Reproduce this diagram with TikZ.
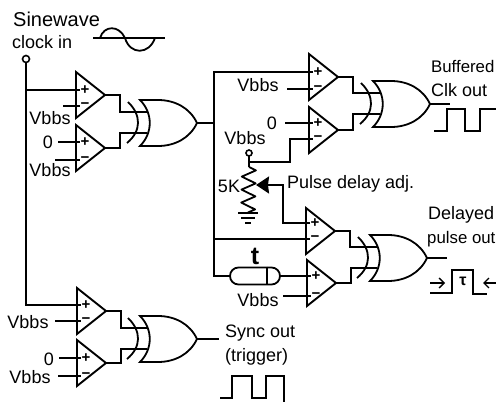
\documentclass[tikz,border=0pt]{standalone}
\usepackage{fontspec}
\setmainfont{Liberation Sans}
\usepackage{tikz}
\usetikzlibrary{calc,shapes.geometric,shapes.misc,arrows.meta}
\usetikzlibrary{decorations.pathmorphing}

\tikzset{
    wire/.style={line width=1.8pt, line join=miter},
    comparator/.style={draw, line width=1.9pt, isosceles triangle, isosceles triangle stretches,
        minimum width=46pt, minimum height=29pt, inner sep=0pt, outer sep=0pt, anchor=apex},
    sign/.style={inner sep=0pt, font=\fontsize{15}{15}\selectfont\bfseries},
    txt/.style={inner sep=0pt, anchor=west, font=\fontsize{18}{20}\selectfont},
    edgetxt/.style={txt, font=\fontsize{16.8}{20}\selectfont},
    mid/.style={inner sep=0pt, font=\fontsize{18}{20}\selectfont},
    terminal/.style={draw, circle, line width=1.6pt, minimum size=7pt, inner sep=0pt, outer sep=0pt},
}

\begin{document}
\begin{tikzpicture}[x=1pt, y=-1pt]
    \useasboundingbox (0,0) rectangle (496,404);

    \foreach \cname/\ax/\ay/\pdy/\ndy in {C1/105/95/-5/11, C2/105/148/-6/12, C3/338/77/-5/12, C4/338/130/-7/9,
        C5/335/231/-8/8, C6/336/283/-7/13, C7/106/311/-6/10, C8/106/363/-5/13}{
        \node[comparator] (\cname) at (\ax,\ay) {};
        \node[sign] (\cname-plus) at ($(\cname.lower side)+(9,\pdy)$) {+};
        \node[sign] (\cname-minus) at ($(\cname.lower side)+(9,\ndy)$) {−};
        \coordinate (\cname-p) at ($(\cname.lower side)+(4,\pdy)$);
        \coordinate (\cname-n) at ($(\cname.lower side)+(4,\ndy)$);
    }

    \foreach \gname/\gx/\gy/\gend in {G1/140/123/214, G2/373/104/450, G3/370/258/447, G4/140/339/219}{
        \draw[wire, shift={(\gx,\gy)}] (0,-23) .. controls (13,-10) and (13,10) .. (0,23) -- (18,23)
            .. controls (35,23) and (50,15) .. (57,0) .. controls (50,-15) and (35,-23) .. (18,-23) -- cycle;
        \draw[wire, shift={(\gx,\gy)}] (-12,-21) .. controls (1.5,-8) and (1.5,8) .. (-13,20);
        \coordinate (\gname-a) at (\gx+7,\gy-11);
        \coordinate (\gname-b) at (\gx+7,\gy+10);
        \coordinate (\gname-y) at (\gx+57,\gy);
        \coordinate (\gname-end) at (\gend,\gy);
        \draw[wire] (\gname-y) -- (\gname-end);
    }

    \foreach \cname/\gin in {C1/G1-a, C2/G1-b, C3/G2-a, C4/G2-b, C5/G3-a, C6/G3-b, C7/G4-a, C8/G4-b}{
        \draw[wire] (\cname.apex) -- ++(15,0) |- (\gin);
    }

    % labels and their stubs
    \foreach \lname/\lx/\ly/\ltext in {v1/50/118/Vbbs, z1/48/142/0, v2/50/170/Vbbs, v3/258/85/Vbbs, z2/272/123/0,
        v4/245/138/Vbbs, v5/258/300/Vbbs, v6/28/322/Vbbs, z3/49/359/0, v7/30/377/Vbbs}{
        \node[mid] (\lname) at (\lx,\ly) {\ltext};
    }
    \foreach \tgt/\sx in {C1-n/63, C2-p/58, C2-n/55, C3-n/287, C4-p/285, C6-n/283, C7-n/55, C8-p/59, C8-n/58}{
        \coordinate (\tgt-s) at (\sx,0 |- \tgt);
        \draw[wire] (\tgt-s) -- (\tgt);
    }

    \node[txt, font=\fontsize{20}{22}\selectfont] (sinelabel) at (13,19) {Sinewave};
    \node[txt] (clocklabel) at (12,42) {clock in};
    \node[edgetxt] (buflabel) at (431,66) {Buffered};
    \node[txt] (clklabel) at (431,90) {Clk out};
    \node[txt] (delaylabel) at (428,215) {Delayed};
    \node[edgetxt] (pulselabel) at (427,239) {pulse out};
    \node[txt] (synclabel) at (225,333) {Sync out};
    \node[txt] (triglabel) at (225,357) {(trigger)};
    \node[txt] (adjlabel) at (287,184) {Pulse delay adj.};
    \node[mid] (potlabel) at (229,186) {5K};

    % clock input
    \node[terminal] (clkin) at (26,59) {};
    \draw[wire] (clkin.south) -- (26,90) -- (C1-p);
    \draw[wire] (26,90) |- (C7-p);
    \coordinate (axisl) at (93,38);
    \coordinate (axisr) at (165,38);
    \draw[wire] (axisl) -- (axisr);
    \draw[wire] (100,38) .. controls (104,25) and (119,25) .. (125,38) .. controls (130,55) and (149,55) .. (155,38);

    % buffered clock bus
    \coordinate (bus) at (214,123);
    \draw[wire] (G1-end) -- (bus);
    \draw[wire] (bus) |- (C3-p);
    \draw[wire] (bus) |- (C5-n);

    \node[draw, wire, rounded rectangle, minimum width=50pt, minimum height=17pt, inner sep=0pt] (delay) at (255,276) {};
    \draw[wire] ($(delay.north)+(12,0)$) -- ($(delay.south)+(12,0)$);
    \node[inner sep=0pt, font=\fontsize{25}{25}\selectfont\bfseries] (tlabel) at (255,256) {t};
    \draw[wire] (bus) |- (delay.west);
    \draw[wire] (delay.east) -- (C6-p);

    % delay pot
    \node[terminal, minimum size=6pt] (vbbspot) at (249,153) {};
    \coordinate (potjoin) at (249,162);
    \coordinate (pottop) at (249,167);
    \coordinate (potbot) at (248,213);
    \draw[wire] (vbbspot.south) -- (pottop);
    \draw[wire] (potjoin) -| (290,139) -- (C4-n);
    \draw[wire, line join=round, decorate, decoration={zigzag, segment length=13pt, amplitude=7pt}] (pottop) -- (potbot);
    \foreach \bar/\hw in {0/10, 5/7, 10/3}{
        \draw[wire] ($(potbot)+(-\hw,\bar)$) -- ($(potbot)+(\hw,\bar)$);
    }
    \coordinate (wiper) at (256,185);
    \coordinate (knee) at (283,185);
    \draw[wire, -{Stealth[length=13pt, width=17pt, inset=1pt]}] (C5-p) -| (knee) -- (wiper);

    % waveforms
    \coordinate (bufwave) at (434,131);
    \draw[wire] (bufwave) -- ++(13,0) -- ++(0,-22) -- ++(18,0) -- ++(0,22) -- ++(15,0) -- ++(0,-22) -- ++(16,0);
    \coordinate (syncwave) at (220,398);
    \draw[wire] (syncwave) -- ++(12,0) -- ++(0,-22) -- ++(20,0) -- ++(0,22) -- ++(14,0) -- ++(0,-22) -- ++(18,0) -- ++(0,26);
    \coordinate (pulsewave) at (430,293);
    \draw[wire] (pulsewave) -- ++(22,0) -- ++(0,-23) -- ++(21,0) -- ++(0,24) -- ++(14,0);
    \node[mid, font=\fontsize{16}{16}\selectfont\bfseries] (taulabel) at (463,281) {τ};
    \coordinate (tauleft) at (430,283);
    \coordinate (tauleftend) at (445,283);
    \coordinate (tauright) at (497,283);
    \coordinate (taurightend) at (483,283);
    \draw[line width=1.4pt, -{Straight Barb[length=5pt]}] (tauleft) -- (tauleftend);
    \draw[line width=1.4pt, -{Straight Barb[length=5pt]}] (tauright) -- (taurightend);
\end{tikzpicture}
\end{document}
